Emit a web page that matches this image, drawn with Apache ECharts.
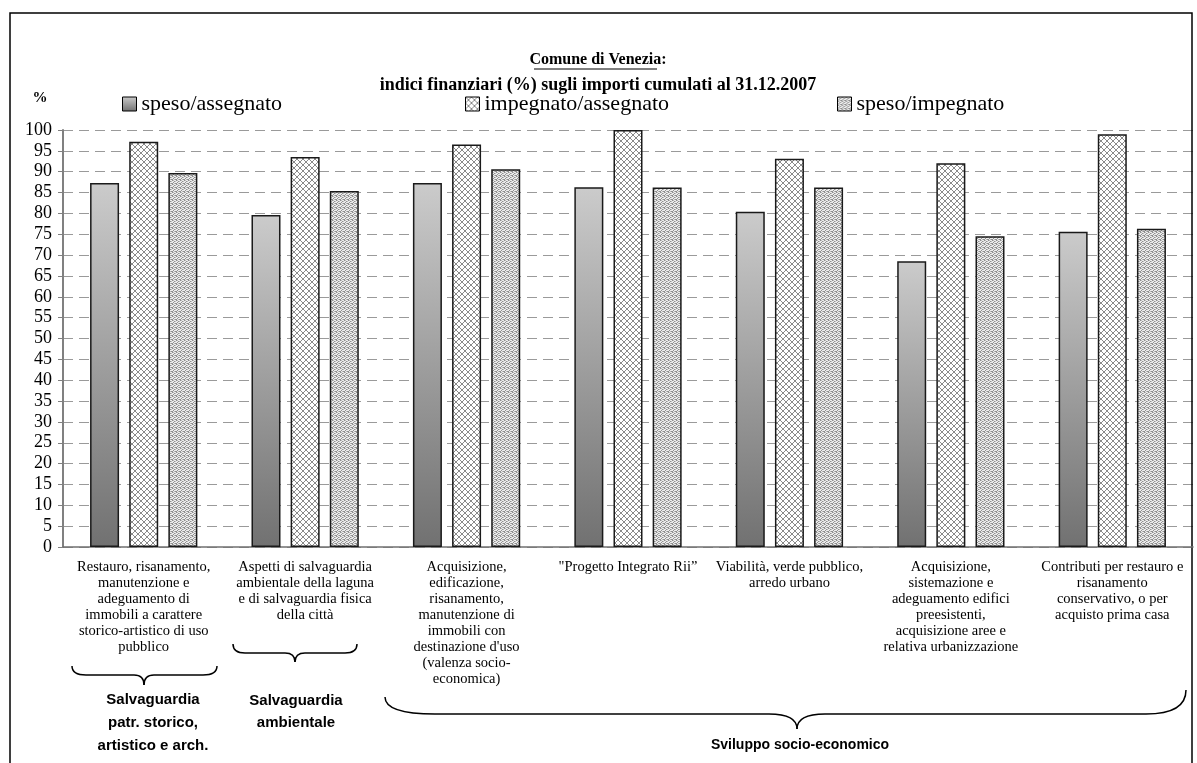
<!DOCTYPE html>
<html>
<head>
<meta charset="utf-8">
<script src="https://cdn.jsdelivr.net/npm/echarts@6/dist/echarts.min.js"></script>
<style>html,body{margin:0;padding:0;background:#fff}#c{width:1197px;height:763px}</style>
</head>
<body>
<div id="c"></div>
<script>
const categories = [
  'Restauro, risanamento,\nmanutenzione e\nadeguamento di\nimmobili a carattere\nstorico-artistico di uso\npubblico',
  'Aspetti di salvaguardia\nambientale della laguna\ne di salvaguardia fisica\ndella città',
  'Acquisizione,\nedificazione,\nrisanamento,\nmanutenzione di\nimmobili con\ndestinazione d\'uso\n(valenza socio-\neconomica)',
  '"Progetto Integrato Rii”',
  'Viabilità, verde pubblico,\narredo urbano',
  'Acquisizione,\nsistemazione e\nadeguamento edifici\npreesistenti,\nacquisizione aree e\nrelativa urbanizzazione',
  'Contributi per restauro e\nrisanamento\nconservativo, o per\nacquisto prima casa'
];
const seriesNames = ['speso/assegnato', 'impegnato/assegnato', 'speso/impegnato'];
const spesoAssegnato = [87.3, 79.6, 87.3, 86.3, 80.4, 68.5, 75.6];
const impegnatoAssegnato = [97.2, 93.5, 96.5, 100, 93.1, 92.0, 99.0];
const spesoImpegnato = [89.7, 85.4, 90.6, 86.2, 86.2, 74.5, 76.3];
const yTicks = [0,5,10,15,20,25,30,35,40,45,50,55,60,65,70,75,80,85,90,95,100];

function makeCross() {
  const c = document.createElement('canvas'); c.width = 6; c.height = 6;
  const g = c.getContext('2d');
  g.fillStyle = '#fff'; g.fillRect(0,0,6,6);
  g.strokeStyle = '#8a8a8a'; g.lineWidth = 1;
  g.beginPath(); g.moveTo(0,0); g.lineTo(6,6); g.moveTo(6,0); g.lineTo(0,6);
  g.stroke();
  return c;
}
function makeDots() {
  const c = document.createElement('canvas'); c.width = 4; c.height = 4;
  const g = c.getContext('2d');
  g.fillStyle = '#ececec'; g.fillRect(0,0,4,4);
  g.fillStyle = '#909090';
  [[0,0],[2,1],[1,2],[3,3],[0,3]].forEach(p => g.fillRect(p[0],p[1],1,1));
  g.fillStyle = '#bababa';
  [[2,3],[3,1],[1,0]].forEach(p => g.fillRect(p[0],p[1],1,1));
  return c;
}

const chart = echarts.init(document.getElementById('c'), null, {renderer: 'canvas'});
const serif = '"Liberation Serif", "Times New Roman", serif';
const sans = '"Liberation Sans", Arial, sans-serif';

const fills = [
  new echarts.graphic.LinearGradient(0,0,0,1,[{offset:0,color:'#cbcbcb'},{offset:1,color:'#717171'}]),
  { image: makeCross(), repeat: 'repeat' },
  { image: makeDots(), repeat: 'repeat' }
];
const seriesData = [spesoAssegnato, impegnatoAssegnato, spesoImpegnato];
const legendLefts = [122, 465, 837];

const option = {
  animation: false,
  backgroundColor: '#fff',
  grid: { left: 63, right: 4, top: 130, bottom: 216, containLabel: false },
  legend: seriesNames.map((n, i) => ({
    top: 93, left: legendLefts[i], padding: 0, itemWidth: 14, itemHeight: 14,
    icon: 'rect',
    itemStyle: { borderColor: '#000', borderWidth: 1 },
    textStyle: { fontFamily: serif, fontSize: 22, color: '#000' },
    data: [n]
  })),
  xAxis: {
    type: 'category', data: categories,
    axisLine: { lineStyle: { color: '#707070', width: 1.5 } },
    axisTick: { length: 5, lineStyle: { color: '#707070' } },
    axisLabel: { interval: 0, fontFamily: serif, fontSize: 14.5, color: '#000', lineHeight: 16, margin: 12, align: 'center', verticalAlign: 'top' }
  },
  yAxis: {
    type: 'value', min: 0, max: 100, interval: 5,
    axisLine: { show: true, lineStyle: { color: '#808080', width: 2 } },
    axisTick: { show: true, length: 5, lineStyle: { color: '#808080' } },
    axisLabel: { fontFamily: serif, fontSize: 18, color: '#000', margin: 11, formatter: v => yTicks.includes(v) ? String(v) : '' },
    splitLine: { lineStyle: { color: '#9a9a9a', type: [10, 6], width: 1 } }
  },
  series: seriesNames.map((n, i) => ({
    type: 'bar', name: n, data: seriesData[i], barWidth: 29, barGap: '35%',
    itemStyle: { borderColor: '#1a1a1a', borderWidth: 1.5, color: fills[i] }
  }))
};
chart.setOption(option);

const bs = { stroke: '#000', lineWidth: 1.5, fill: null };
function q(x1, y1, cx, cy, x2, y2) {
  return { type: 'bezierCurve', shape: { x1, y1, x2, y2, cpx1: cx, cpy1: cy }, style: bs, silent: true };
}
function ln(x1, y1, x2, y2) {
  return { type: 'line', shape: { x1, y1, x2, y2 }, style: bs, silent: true };
}
function brace(x1, y1, x2, y2, xm, yh, ytip, r1a, r1b, r2) {
  return [
    q(x1, y1, x1, yh, x1 + r1a, yh), ln(x1 + r1a, yh, xm - r2, yh), q(xm - r2, yh, xm, yh, xm, ytip),
    q(xm, ytip, xm, yh, xm + r2, yh), ln(xm + r2, yh, x2 - r1b, yh), q(x2 - r1b, yh, x2, yh, x2, y2)
  ];
}

chart.setOption({
  graphic: [
    { type: 'rect', shape: { x: 10, y: 13, width: 1182, height: 800 }, style: { stroke: '#000', lineWidth: 1.5, fill: null }, silent: true },
    { type: 'text', style: { text: 'Comune di Venezia:', x: 598, y: 60, align: 'center', verticalAlign: 'middle', font: 'bold 16px ' + serif, fill: '#000' } },
    { type: 'line', shape: { x1: 534, y1: 69, x2: 657, y2: 69 }, style: { stroke: '#000', lineWidth: 1 } },
    { type: 'text', style: { text: 'indici finanziari (%) sugli importi cumulati al 31.12.2007', x: 598, y: 85, align: 'center', verticalAlign: 'middle', font: 'bold 18px ' + serif, fill: '#000' } },
    { type: 'text', style: { text: '%', x: 40, y: 98, align: 'center', verticalAlign: 'middle', font: 'bold 15px ' + serif, fill: '#000' } },
    ...brace(72, 666, 217, 666, 144, 675, 685, 14, 14, 10),
    ...brace(233, 644, 357, 644, 295, 653, 662, 12, 12, 10),
    ...brace(385, 697, 1186, 690, 797, 714, 729, 50, 40, 28),
    { type: 'text', style: { text: 'Salvaguardia\npatr. storico,\nartistico e arch.', x: 153, y: 688, align: 'center', font: 'bold 15px ' + sans, lineHeight: 23, fill: '#000' } },
    { type: 'text', style: { text: 'Salvaguardia\nambientale', x: 296, y: 690, align: 'center', font: 'bold 15px ' + sans, lineHeight: 22, fill: '#000' } },
    { type: 'text', style: { text: 'Sviluppo socio-economico', x: 800, y: 738, align: 'center', font: 'bold 14px ' + sans, fill: '#000' } }
  ]
});
</script>
</body>
</html>
